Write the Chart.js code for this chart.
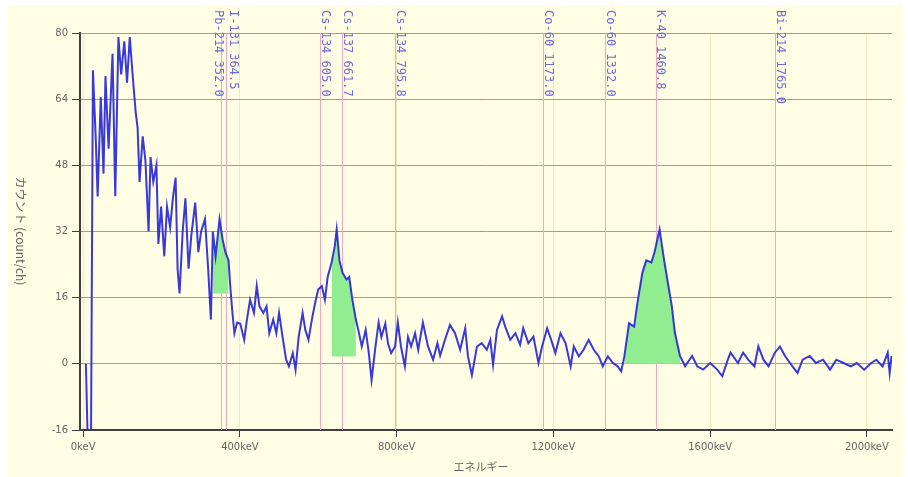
<!DOCTYPE html>
<html>
<head>
<meta charset="utf-8">
<script src="https://cdn.jsdelivr.net/npm/chart.js@4.4.1/dist/chart.umd.min.js"></script>
<style>
  html, body { margin: 0; padding: 0; background: #fff; }
  #wrap { position: relative; width: 908px; height: 477px; }
</style>
</head>
<body>
<div id="wrap"><canvas id="spectrum" width="908" height="477"></canvas></div>
<script>
// spectrum trace (keV / counts per channel)
const energy = [
  7, 12, 20, 25, 32, 37, 45, 52, 57, 65,
  75, 82, 90, 97, 105, 112, 119, 127, 134, 139,
  144, 152, 159, 167, 172, 179, 187, 192, 199, 207,
  214, 222, 229, 236, 241, 246, 254, 261, 269, 276,
  286, 294, 301, 311, 319, 326, 331, 338, 348, 356,
  363, 371, 376, 381, 386, 393, 401, 411, 418, 426,
  436, 443, 450, 460, 468, 475, 485, 493, 500, 510,
  518, 525, 535, 542, 550, 560, 567, 575, 585, 592,
  600, 609, 617, 624, 634, 642, 647, 654, 662, 672,
  679, 687, 696, 704, 711, 721, 729, 736, 746, 754,
  761, 771, 778, 786, 796, 803, 811, 821, 829, 837,
  847, 855, 867, 880, 893, 904, 911, 924, 936, 949,
  962, 975, 982, 992, 1005, 1017, 1030, 1039, 1046, 1056,
  1069, 1077, 1090, 1103, 1115, 1123, 1136, 1149, 1162, 1171,
  1184, 1197, 1205, 1218, 1231, 1244, 1252, 1265, 1277, 1290,
  1303, 1316, 1326, 1339, 1352, 1364, 1373, 1381, 1393, 1406,
  1414, 1427, 1437, 1450, 1458, 1471, 1481, 1492, 1502, 1510,
  1523, 1536, 1554, 1567, 1582, 1600, 1618, 1631, 1645, 1652,
  1671, 1684, 1697, 1713, 1723, 1736, 1749, 1765, 1778, 1791,
  1810, 1823, 1836, 1854, 1870, 1888, 1906, 1922, 1940, 1959,
  1974, 1993, 2011, 2024, 2040, 2053, 2058, 2063
];
const counts = [
  0, -20, -20, 71, 55, 40.5, 64.5, 46, 69.6, 52,
  75, 40.5, 79, 70, 78, 68, 79, 69, 61, 57,
  44, 55, 49, 32, 50, 44, 48, 29, 38, 26,
  38, 33, 40, 45, 23, 17, 32, 40, 23, 31,
  39, 27, 32, 35, 23, 10.7, 32, 26, 35, 30,
  27, 25, 18, 12.3, 7.4, 10, 9.7, 5.8, 10.7, 15.5,
  12.3, 18.8, 13.9, 12.3, 13.9, 7.4, 10.7, 7.4, 12.3, 5.8,
  1, -0.6, 2.6, -1.4, 6.5, 12.3, 8.2, 5.8, 11.4, 14.7,
  18, 18.8, 15.5, 21, 24.5, 28.4, 32.5, 25, 22, 20.4,
  21, 15.5, 10.7, 7.4, 4.2, 8.2, 2.6, -3.9, 4.2, 10,
  6.5, 9.7, 4.9, 2.6, 4.2, 10, 4.2, -0.6, 6.5, 4.2,
  7.4, 3.4, 10, 4.2, 1, 5, 2, 6, 9.4, 7.4,
  3.4, 8.6, 1.8, -2.7, 4.2, 5, 3.4, 5.8, -0.2, 8.2,
  11.5, 9, 5.8, 7.4, 4.6, 8.6, 5, 6.6, 0.2, 4.2,
  8.6, 5, 2.6, 7.4, 5, -0.6, 4.2, 1.8, 3.4, 5.8,
  3.4, 1.8, -0.6, 1.8, 0.2, -0.6, -1.8, 1.8, 9.8, 9,
  14.5, 22, 25, 24.5, 27, 32.5, 26, 19.6, 14, 7.5,
  1.9, -0.6, 1.9, -0.6, -1.4, 0.2, -1.4, -3, 1, 2.7,
  0.2, 2.7, 1, -0.6, 4.2, 1, -0.6, 2.7, 4.2, 1.9,
  -0.6, -2.2, 1, 1.9, 0.2, 1, -1.4, 1, 0.2, -0.6,
  0.2, -1.4, 0.2, 1, -0.6, 2.7, -2.2, 1.9
];

const xTickValues = [0, 400, 800, 1200, 1600, 2000];

// nuclide marker lines
const markerNames = ['Pb-214', 'I-131', 'Cs-134', 'Cs-137', 'Cs-134', 'Co-60', 'Co-60', 'K-40', 'Bi-214'];
const markerEnergy = [352.0, 364.5, 605.0, 661.7, 795.8, 1173.0, 1332.0, 1460.8, 1765.0];

// green regions of interest
const roiStart = [331, 629, 1381];
const roiEnd = [373, 701, 1523];
const roiBase = [17, 1.8, 0];

const spectrum = energy.map((e, i) => ({ x: e, y: counts[i] }));

const roiSets = roiStart.map((s, k) => ({
  data: spectrum.filter(p => p.x >= s && p.x <= roiEnd[k]),
  borderWidth: 0,
  backgroundColor: '#90ee90',
  fill: { value: roiBase[k] },
  pointRadius: 0,
  order: 2
}));

const backdrop = {
  id: 'backdrop',
  beforeDraw(chart) {
    const c = chart.ctx;
    c.save();
    c.fillStyle = '#ffffff';
    c.fillRect(0, 0, chart.width, chart.height);
    c.fillStyle = '#fffde4';
    c.fillRect(8, 5, 895, 472);
    c.restore();
  }
};

const markers = {
  id: 'markers',
  beforeDatasetsDraw(chart) {
    const c = chart.ctx, a = chart.chartArea, xs = chart.scales.x;
    c.save();
    c.strokeStyle = '#efa9bb';
    c.lineWidth = 1;
    markerEnergy.forEach(e => {
      const px = Math.round(xs.getPixelForValue(e)) + 0.5;
      c.beginPath();
      c.moveTo(px, a.top);
      c.lineTo(px, a.bottom);
      c.stroke();
    });
    c.restore();
  },
  afterDatasetsDraw(chart) {
    const c = chart.ctx, xs = chart.scales.x;
    const px = markerEnergy.map(e => xs.getPixelForValue(e));
    const lx = px.map(p => p + 5);
    // spread labels of lines that sit too close together
    for (let i = 0; i < px.length - 1; i++) {
      if (px[i + 1] - px[i] < 12) {
        lx[i] = px[i] - 3;
        lx[i + 1] = px[i + 1] + 7;
      }
    }
    c.save();
    c.fillStyle = '#6b6bdc';
    c.font = '12px "DejaVu Sans Mono"';
    c.textAlign = 'left';
    c.textBaseline = 'middle';
    markerNames.forEach((n, i) => {
      c.save();
      c.translate(lx[i], 10);
      c.rotate(Math.PI / 2);
      c.fillText(n + ' ' + markerEnergy[i].toFixed(1), 0, 0);
      c.restore();
    });
    c.restore();
  }
};

const titles = {
  id: 'titles',
  afterDraw(chart) {
    const c = chart.ctx;
    c.save();
    c.fillStyle = '#666';
    c.font = '11px "Noto Sans CJK JP"';
    c.textAlign = 'center';
    c.textBaseline = 'middle';
    c.fillText('エネルギー', 481, 467);
    c.translate(21, 231);
    c.rotate(Math.PI / 2);
    c.font = '12px "Noto Sans CJK JP"';
    c.fillText('カウント (count/ch)', 0, 0);
    c.restore();
  }
};

new Chart(document.getElementById('spectrum'), {
  type: 'line',
  data: {
    datasets: [{
      data: spectrum,
      borderColor: 'rgba(35, 35, 215, 0.9)',
      borderWidth: 2,
      pointRadius: 0,
      fill: false,
      tension: 0,
      order: 1
    }].concat(roiSets)
  },
  options: {
    responsive: false,
    animation: false,
    devicePixelRatio: 1,
    layout: { padding: { left: 0, right: 16, top: 33, bottom: 0 } },
    plugins: { legend: { display: false }, tooltip: { enabled: false } },
    scales: {
      x: {
        type: 'linear',
        min: -8,
        max: 2064,
        afterBuildTicks: s => { s.ticks = xTickValues.map(v => ({ value: v })); },
        afterFit: s => { s.height = 47; },
        grid: { color: '#efe9c6', tickColor: '#404040', tickLength: 7 },
        border: { color: '#404040', width: 2 },
        ticks: {
          color: '#666',
          font: { family: 'DejaVu Sans', size: 10 },
          padding: 4,
          maxRotation: 0,
          callback: v => v + 'keV'
        }
      },
      y: {
        min: -16,
        max: 80,
        afterFit: s => { s.width = 80; },
        grid: { color: '#a39f88', tickColor: '#404040', tickLength: 8 },
        border: { color: '#404040', width: 2 },
        ticks: {
          stepSize: 16,
          color: '#666',
          font: { family: 'DejaVu Sans', size: 10 },
          padding: 4
        }
      }
    }
  },
  plugins: [backdrop, markers, titles]
});
</script>
</body>
</html>
